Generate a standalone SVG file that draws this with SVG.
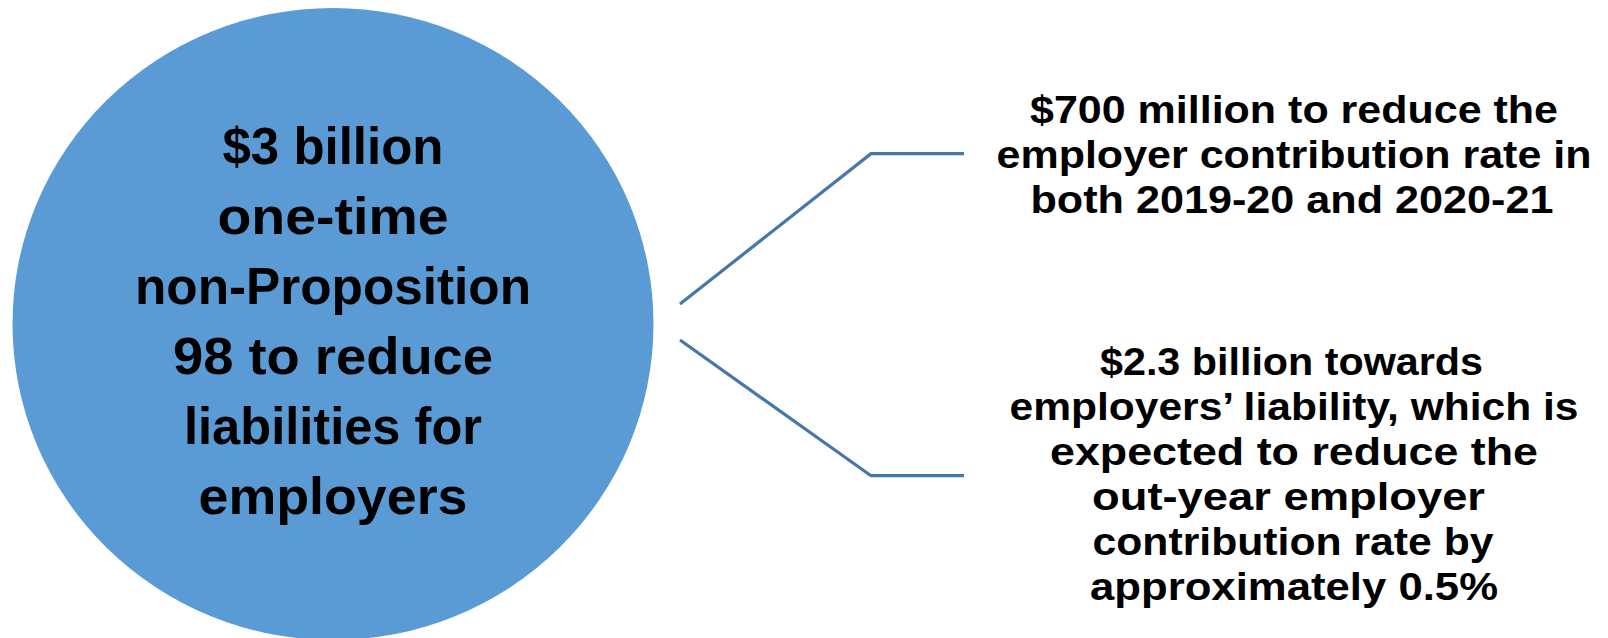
<svg xmlns="http://www.w3.org/2000/svg" width="1608" height="638" viewBox="0 0 1608 638">
  <style>
    .bg { fill: #ffffff; }
    .hub { fill: #5B9BD5; }
    .label { font-family: "Liberation Sans", Arial, sans-serif; font-weight: bold; fill: #000000; text-anchor: middle; }
    .hub-text { font-size: 52px; }
    .leaf-text { font-size: 39px; }
    .link { fill: none; stroke: #4677AA; stroke-width: 3.2; stroke-linejoin: miter; }
  </style>
  <rect class="bg" x="0" y="0" width="1608" height="638"/>

  <!-- central total -->
  <g id="node-total">
    <ellipse class="hub" cx="333" cy="324" rx="320.5" ry="316"/>
    <text class="label hub-text" x="333" y="164" textLength="221" lengthAdjust="spacingAndGlyphs">$3 billion</text>
    <text class="label hub-text" x="333" y="234" textLength="231" lengthAdjust="spacingAndGlyphs">one-time</text>
    <text class="label hub-text" x="333" y="304" textLength="396" lengthAdjust="spacingAndGlyphs">non-Proposition</text>
    <text class="label hub-text" x="333" y="374" textLength="320" lengthAdjust="spacingAndGlyphs">98 to reduce</text>
    <text class="label hub-text" x="333" y="444" textLength="298" lengthAdjust="spacingAndGlyphs">liabilities for</text>
    <text class="label hub-text" x="333" y="514" textLength="269" lengthAdjust="spacingAndGlyphs">employers</text>
  </g>

  <!-- bracket connectors -->
  <g id="connectors">
    <polyline class="link" points="680,304 871,153.7 964,153.7"/>
    <polyline class="link" points="680,340 871,475.7 964,475.7"/>
  </g>

  <!-- contribution rate share -->
  <g id="node-rate">
    <text class="label leaf-text" x="1294" y="122.5" textLength="528" lengthAdjust="spacingAndGlyphs">$700 million to reduce the</text>
    <text class="label leaf-text" x="1294" y="167.5" textLength="595" lengthAdjust="spacingAndGlyphs">employer contribution rate in</text>
    <text class="label leaf-text" x="1292" y="212.5" textLength="523" lengthAdjust="spacingAndGlyphs">both 2019-20 and 2020-21</text>
  </g>

  <!-- liability share -->
  <g id="node-liability">
    <text class="label leaf-text" x="1291.5" y="375" textLength="383" lengthAdjust="spacingAndGlyphs">$2.3 billion towards</text>
    <text class="label leaf-text" x="1294" y="420" textLength="569" lengthAdjust="spacingAndGlyphs">employers’ liability, which is</text>
    <text class="label leaf-text" x="1294" y="465" textLength="488" lengthAdjust="spacingAndGlyphs">expected to reduce the</text>
    <text class="label leaf-text" x="1288.5" y="510" textLength="393" lengthAdjust="spacingAndGlyphs">out-year employer</text>
    <text class="label leaf-text" x="1293" y="555" textLength="401" lengthAdjust="spacingAndGlyphs">contribution rate by</text>
    <text class="label leaf-text" x="1294" y="599.5" textLength="408" lengthAdjust="spacingAndGlyphs">approximately 0.5%</text>
  </g>
</svg>
